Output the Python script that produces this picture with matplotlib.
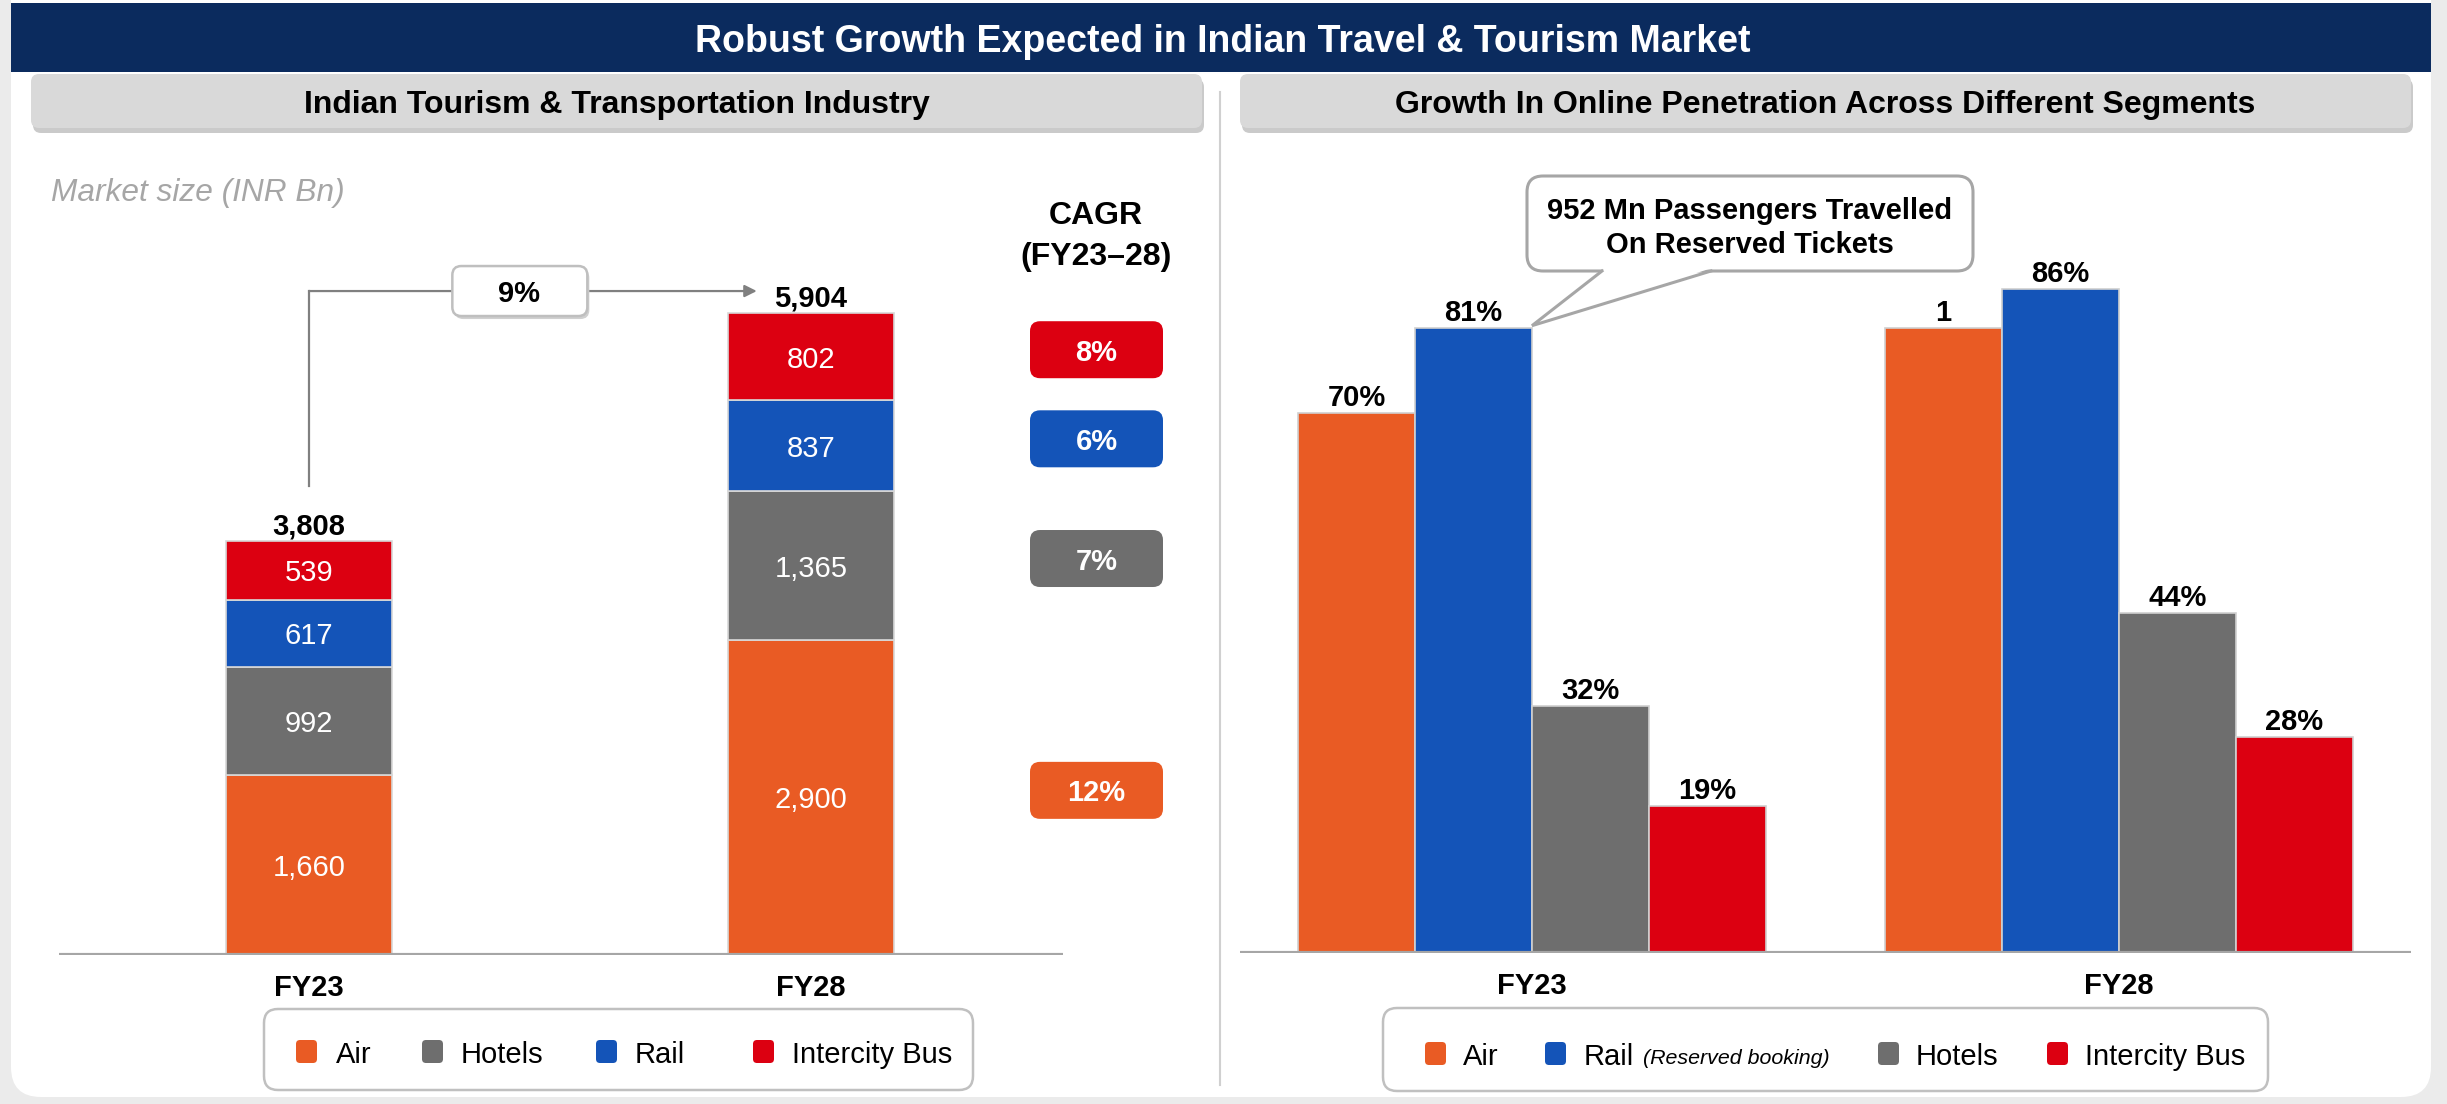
import matplotlib
matplotlib.use("Agg")
import matplotlib.pyplot as plt
from matplotlib.patches import FancyBboxPatch, Rectangle, Polygon
import numpy as np

plt.rcParams['font.family'] = ['Liberation Sans', 'DejaVu Sans']

# ---------------- data ----------------
title = "Robust Growth Expected in Indian Travel & Tourism Market"
left_title = "Indian Tourism & Transportation Industry"
right_title = "Growth In Online Penetration Across Different Segments"

years = ["FY23", "FY28"]
mkt_segments = ["Air", "Hotels", "Rail", "Intercity Bus"]
air_mkt = [1660, 2900]
hotels_mkt = [992, 1365]
rail_mkt = [617, 837]
bus_mkt = [539, 802]
totals_mkt = [3808, 5904]
cagr_labels = ["12%", "7%", "6%", "8%"]          # Air, Hotels, Rail, Intercity Bus
total_cagr = "9%"

pen_segments = ["Air", "Rail", "Hotels", "Intercity Bus"]
air_pen = [70, 81]
rail_pen = [81, 86]
hotels_pen = [32, 44]
bus_pen = [19, 28]
air_pen_labels = ["70%", "1"]
rail_pen_labels = ["81%", "86%"]
hotels_pen_labels = ["32%", "44%"]
bus_pen_labels = ["19%", "28%"]
callout_text = ["952 Mn Passengers Travelled", "On Reserved Tickets"]

ORANGE = '#E95B24'
GRAY = '#6E6E6E'
BLUE = '#1454B8'
RED = '#DC0011'
NAVY = '#0B2B5E'

# ---------------- figure ----------------
W, H = 2447, 1104
fig = plt.figure(figsize=(W / 100, H / 100), dpi=100)
fig.patch.set_facecolor('#ebebeb')


def px_axes(x0, y0, x1, y1, **kw):
    return fig.add_axes([x0 / W, 1 - y1 / H, (x1 - x0) / W, (y1 - y0) / H], **kw)


def to_px(ax, x, y):
    dx, dy = ax.transData.transform((x, y))
    return dx, H - dy


bg = px_axes(0, 0, W, H, zorder=0, label='bg')
bg.set_xlim(0, W); bg.set_ylim(H, 0); bg.axis('off')
fg = px_axes(0, 0, W, H, zorder=5, label='fg')
fg.set_xlim(0, W); fg.set_ylim(H, 0); fg.axis('off'); fg.patch.set_alpha(0)

FS = 21

# white panel
bg.add_patch(FancyBboxPatch((11, -60), 2420, 1157, boxstyle="round,pad=0,rounding_size=30",
                            fc='white', ec='none'))
# title bar
bg.add_patch(Rectangle((11, 3), 2420, 69, fc=NAVY, ec='none'))
bg.text(1223, 38, title, color='white', fontweight='bold', fontsize=27,
        ha='center', va='center_baseline')

# subtitle boxes
for (x0, x1, txt) in [(31, 1202, left_title), (1240, 2411, right_title)]:
    bg.add_patch(FancyBboxPatch((x0 + 2, 79), x1 - x0, 54, boxstyle="round,pad=0,rounding_size=8",
                                fc='#a8a8a8', ec='none', alpha=0.6))
    bg.add_patch(FancyBboxPatch((x0, 74), x1 - x0, 54, boxstyle="round,pad=0,rounding_size=8",
                                fc='#d9d9d9', ec='none'))
    bg.text((x0 + x1) / 2, 101, txt, color='black', fontweight='bold', fontsize=23,
            ha='center', va='center_baseline')

# separator
bg.plot([1220, 1220], [92, 1085], color='#d0d0d0', lw=1.5)

bg.text(51, 189, "Market size (INR Bn)", color='#a6a6a6', fontstyle='italic', fontsize=22.8,
        ha='left', va='center_baseline')

# ---------------- left chart ----------------
K1 = 0.10872
YMAX1 = 7500
ax1 = px_axes(59, 955 - YMAX1 * K1, 1063, 955, zorder=2, label='left')
ax1.set_xlim(-0.498, 1.502)
ax1.set_ylim(0, YMAX1)
ax1.patch.set_alpha(0)
for s in ax1.spines.values():
    s.set_visible(False)
ax1.set_yticks([])
ax1.set_xticks(np.arange(len(years)))
ax1.set_xticklabels(years, fontweight='bold', fontsize=FS)
ax1.tick_params(axis='x', length=0, pad=14)

x = np.arange(len(years))
bottom = np.zeros(len(years))
mkt_series = [air_mkt, hotels_mkt, rail_mkt, bus_mkt]
mkt_colors = [ORANGE, GRAY, BLUE, RED]
mids28 = []
for vals, col in zip(mkt_series, mkt_colors):
    vals = np.array(vals)
    ax1.bar(x, vals, width=0.331, bottom=bottom, color=col, edgecolor='#d8d8d8', linewidth=1.2, zorder=2)
    for xi, b, v in zip(x, bottom, vals):
        ax1.text(xi, b + v / 2, f"{v:,}", color='white', fontsize=FS, ha='center', va='center_baseline',
                 zorder=4)
    mids28.append(bottom[1] + vals[1] / 2)
    bottom = bottom + vals
ax1.axhline(0, color='#a6a6a6', lw=3, zorder=3)

for xi, t in zip(x, totals_mkt):
    ax1.annotate(f"{t:,}", (xi, t), xytext=(0, 5), textcoords='offset points', ha='center',
                 va='baseline', fontweight='bold', fontsize=FS)

# growth arrow
arrow_y = totals_mkt[1] + 203
ax1.plot([0, 0], [totals_mkt[0] + 506, arrow_y], color='#808080', lw=1.6, clip_on=False, zorder=1)
ax1.annotate('', xy=(0.892, arrow_y), xytext=(0, arrow_y),
             arrowprops=dict(arrowstyle='-|>', color='#808080', lw=1.6, mutation_scale=18,
                             shrinkA=0, shrinkB=0), zorder=1, annotation_clip=False)
cx, cy = to_px(ax1, 0.419, arrow_y)
fg.add_patch(FancyBboxPatch((cx - 67 + 2, cy - 25 + 3), 135, 50, boxstyle="round,pad=0,rounding_size=9",
                            fc='#d0d0d0', ec='none'))
fg.add_patch(FancyBboxPatch((cx - 67, cy - 25), 135, 50, boxstyle="round,pad=0,rounding_size=9",
                            fc='white', ec='#bfbfbf', lw=1.8))
fg.text(cx, cy, total_cagr, fontweight='bold', fontsize=FS, ha='center', va='center_baseline')

# CAGR column
fg.text(1096, 213, "CAGR", fontweight='bold', fontsize=23, ha='center', va='center_baseline')
fg.text(1096, 253, "(FY23\u201328)", fontweight='bold', fontsize=23, ha='center', va='center_baseline')
for lab, col, m in zip(cagr_labels, mkt_colors, mids28):
    _, py = to_px(ax1, 1, m)
    py -= 7
    fg.add_patch(FancyBboxPatch((1030, py - 28.5), 133, 57, boxstyle="round,pad=0,rounding_size=10",
                                fc=col, ec='none'))
    fg.text(1096.5, py, lab, color='white', fontweight='bold', fontsize=FS, ha='center',
            va='center_baseline')

# left legend
bg.add_patch(FancyBboxPatch((264, 1009), 709, 81, boxstyle="round,pad=0,rounding_size=14",
                            fc='white', ec='#c0c0c0', lw=1.8))
for name, col, mx, tx in zip(mkt_segments, mkt_colors, [296, 422, 596, 753], [336, 461, 635, 792]):
    bg.add_patch(FancyBboxPatch((mx, 1040), 21, 23, boxstyle="round,pad=0,rounding_size=4",
                                fc=col, ec='none'))
    bg.text(tx, 1052, name, fontsize=FS, ha='left', va='center_baseline')

# ---------------- right chart ----------------
K2 = 7.72
ax2 = px_axes(1240, 953 - 100 * K2, 2411, 953, zorder=2, label='right')
ax2.set_xlim(-0.4974, 1.4975)
ax2.set_ylim(0, 100)
ax2.patch.set_alpha(0)
for s in ax2.spines.values():
    s.set_visible(False)
ax2.set_yticks([])
ax2.set_xticks(np.arange(len(years)))
ax2.set_xticklabels(years, fontweight='bold', fontsize=FS)
ax2.tick_params(axis='x', length=0, pad=14)

bw = 0.1993
pen_series = [air_pen, rail_pen, hotels_pen, bus_pen]
pen_labels = [air_pen_labels, rail_pen_labels, hotels_pen_labels, bus_pen_labels]
pen_colors = [ORANGE, BLUE, GRAY, RED]
for i, (vals, labs, col) in enumerate(zip(pen_series, pen_labels, pen_colors)):
    xs = x + (i - 1.5) * bw
    ax2.bar(xs, vals, width=bw, color=col, edgecolor='#d0d0d0', linewidth=1.2, zorder=2)
    for xi, v, lab in zip(xs, vals, labs):
        ax2.annotate(lab, (xi, v), xytext=(0, 5), textcoords='offset points', ha='center',
                     va='baseline', fontweight='bold', fontsize=FS)
ax2.axhline(0, color='#a6a6a6', lw=3, zorder=3)

# callout
tipx, tipy = to_px(ax2, x[0] + (1 - 1.5) * bw + bw / 2, rail_pen[0])
fg.add_patch(FancyBboxPatch((1527, 176), 446, 95, boxstyle="round,pad=0,rounding_size=16",
                            fc='white', ec='#a6a6a6', lw=2.2))
fg.add_patch(Polygon([(1604, 269), (tipx, tipy - 2), (1709, 269)], closed=True, fc='white', ec='none'))
fg.plot([1602, tipx, 1711], [271, tipy - 2, 271], color='#a6a6a6', lw=2.2, solid_joinstyle='miter')
fg.text(1750, 208, callout_text[0], fontweight='bold', fontsize=FS, ha='center', va='center_baseline')
fg.text(1750, 242, callout_text[1], fontweight='bold', fontsize=FS, ha='center', va='center_baseline')

# right legend
bg.add_patch(FancyBboxPatch((1383, 1008), 885, 83, boxstyle="round,pad=0,rounding_size=14",
                            fc='white', ec='#c0c0c0', lw=1.8))
for name, col, mx, tx in zip(pen_segments, pen_colors, [1425, 1545, 1878, 2047], [1463, 1584, 1916, 2085]):
    bg.add_patch(FancyBboxPatch((mx, 1042), 21, 23, boxstyle="round,pad=0,rounding_size=4",
                                fc=col, ec='none'))
    bg.text(tx, 1054, name, fontsize=FS, ha='left', va='center_baseline')
bg.text(1643, 1056, "(Reserved booking)", fontsize=15.4, fontstyle='italic', ha='left', va='center_baseline')

fig.savefig("out.png", dpi=100, facecolor=fig.get_facecolor())
